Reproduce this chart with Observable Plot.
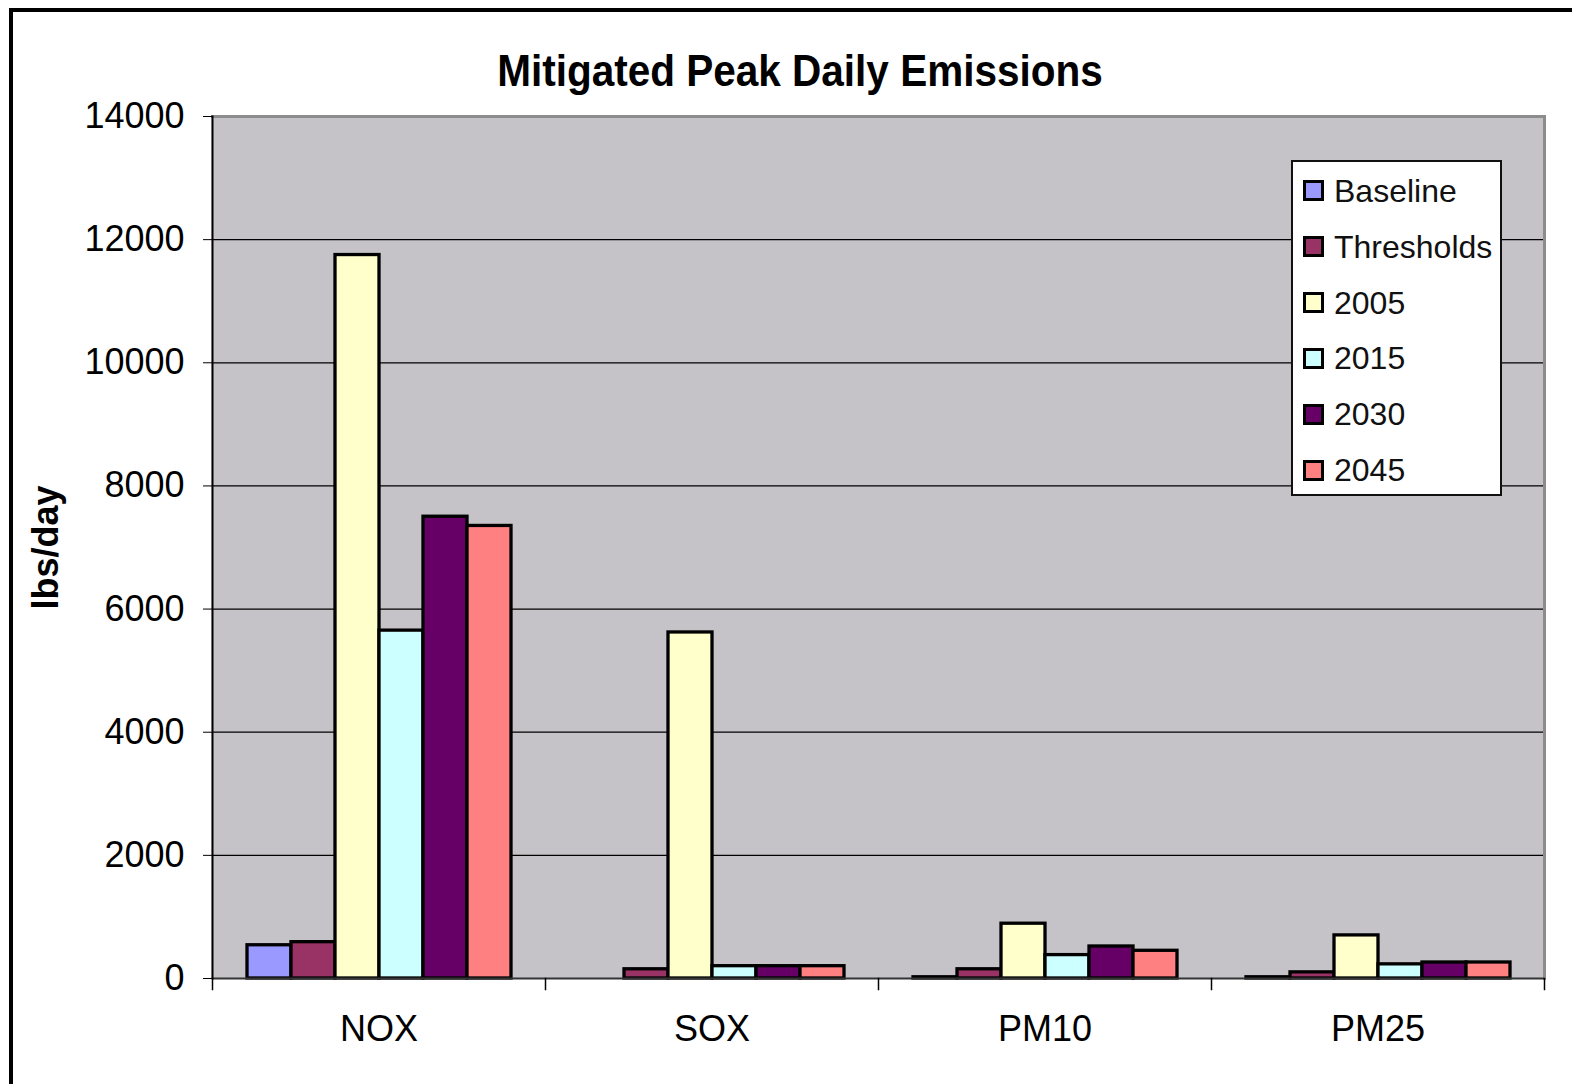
<!DOCTYPE html>
<html>
<head>
<meta charset="utf-8">
<script src="https://cdn.jsdelivr.net/npm/d3@7"></script>
<script src="https://cdn.jsdelivr.net/npm/@observablehq/plot@0.6"></script>
<style>
  html, body { margin: 0; padding: 0; background: #fff; overflow: hidden; }
  #wrap { position: relative; width: 1572px; height: 1084px; font-family: "Liberation Sans", Arial, sans-serif; }
  #outer { position: absolute; left: 9px; top: 8px; width: 3000px; height: 3000px; border: 4px solid #000; }
  #chart { position: absolute; left: 0; top: 0; }
  #title { position: absolute; left: 800px; top: 48px; font-size: 45px; line-height: 45px; font-weight: bold; white-space: nowrap; transform: translateX(-50%) scaleX(0.9); color: #000; }
  #legend { position: absolute; left: 1291px; top: 160px; width: 211px; height: 336px; box-sizing: border-box; border: 2px solid #111; background: #fff; }
  .item { position: absolute; left: 10px; height: 32px; line-height: 32px; display: flex; align-items: center; font-size: 32px; color: #111; white-space: nowrap; }
  .sw { width: 21px; height: 21px; box-sizing: border-box; border: 3px solid #000; margin-right: 10px; }
  svg [aria-label="y-axis label"] { font-weight: bold; }
</style>
</head>
<body>
<div id="wrap">
  <div id="outer"></div>
  <div id="chart"></div>
  <div id="title">Mitigated Peak Daily Emissions</div>
  <div id="legend"></div>
</div>
<script>
const pollutants = ["NOX", "SOX", "PM10", "PM25"];
const series = ["Baseline", "Thresholds", "2005", "2015", "2030", "2045"];
const colors = ["#9999ff", "#993366", "#ffffcc", "#ccffff", "#660066", "#ff8080"];
const noxValues  = [540, 590, 11750, 5650, 7500, 7350];
const soxValues  = [0, 150, 5620, 200, 200, 200];
const pm10Values = [20, 150, 890, 380, 520, 450];
const pm25Values = [20, 100, 700, 230, 260, 260];
const yTicks = [0, 2000, 4000, 6000, 8000, 10000, 12000, 14000];

const valuesByPollutant = {NOX: noxValues, SOX: soxValues, PM10: pm10Values, PM25: pm25Values};
const rows = [];
for (const p of pollutants) {
  series.forEach((s, i) => rows.push({pollutant: p, series: s, value: valuesByPollutant[p][i]}));
}

const W = 1572, H = 1084;
const mTop = 116, mBottom = 106, mLeft = 211, mRight = 28;
const plotH = H - mTop - mBottom;

const chart = Plot.plot({
  width: W,
  height: H,
  marginTop: mTop,
  marginBottom: mBottom,
  marginLeft: mLeft,
  marginRight: mRight,
  style: {fontFamily: "'Liberation Sans', Arial, sans-serif", background: "transparent", overflow: "visible", color: "#000"},
  fx: {domain: pollutants, padding: 0, axis: null},
  x: {domain: series, paddingInner: 0, paddingOuter: 0.75, axis: null},
  y: {domain: [0, 14000], axis: null},
  color: {domain: series, range: colors},
  marks: [
    Plot.frame({fill: "#c5c3c7", stroke: null, insetLeft: -1, insetRight: -1}),
    Plot.gridY(yTicks.filter(t => t > 0 && t < 14000), {stroke: "#000", strokeOpacity: 1, strokeWidth: 1.3}),
    Plot.frame({facet: "super", anchor: "top", stroke: "#8c8c8c", strokeWidth: 3}),
    Plot.frame({facet: "super", anchor: "right", stroke: "#8c8c8c", strokeWidth: 3}),
    Plot.barY(rows, {fx: "pollutant", x: "series", y: "value", fill: "series", stroke: "#000", strokeWidth: 3.3}),
    Plot.ruleY([0], {stroke: "#333", strokeWidth: 2}),
    Plot.frame({facet: "super", anchor: "left", stroke: "#000", strokeWidth: 2}),
    Plot.frame({anchor: "left", insetTop: plotH, insetBottom: -11, stroke: "#000", strokeWidth: 1.5}),
    Plot.frame({facet: "super", anchor: "right", insetTop: plotH, insetBottom: -11, stroke: "#000", strokeWidth: 1.5}),
    Plot.axisY(yTicks, {
      tickSize: 9, tickPadding: 19, fontSize: 36, tickFormat: "d",
      label: "lbs/day", labelAnchor: "center", labelArrow: false, labelOffset: 180
    }),
    Plot.axisFx({anchor: "bottom", tickSize: 0, tickPadding: 37, fontSize: 36, label: null})
  ]
});
document.getElementById("chart").appendChild(chart);

const legend = document.getElementById("legend");
series.forEach((s, i) => {
  const item = document.createElement("div");
  item.className = "item";
  item.style.top = (30.7 + 55.9 * i - 2 - 16) + "px";
  const sw = document.createElement("div");
  sw.className = "sw";
  sw.style.background = colors[i];
  const label = document.createElement("span");
  label.textContent = s;
  item.appendChild(sw);
  item.appendChild(label);
  legend.appendChild(item);
});
</script>
</body>
</html>
